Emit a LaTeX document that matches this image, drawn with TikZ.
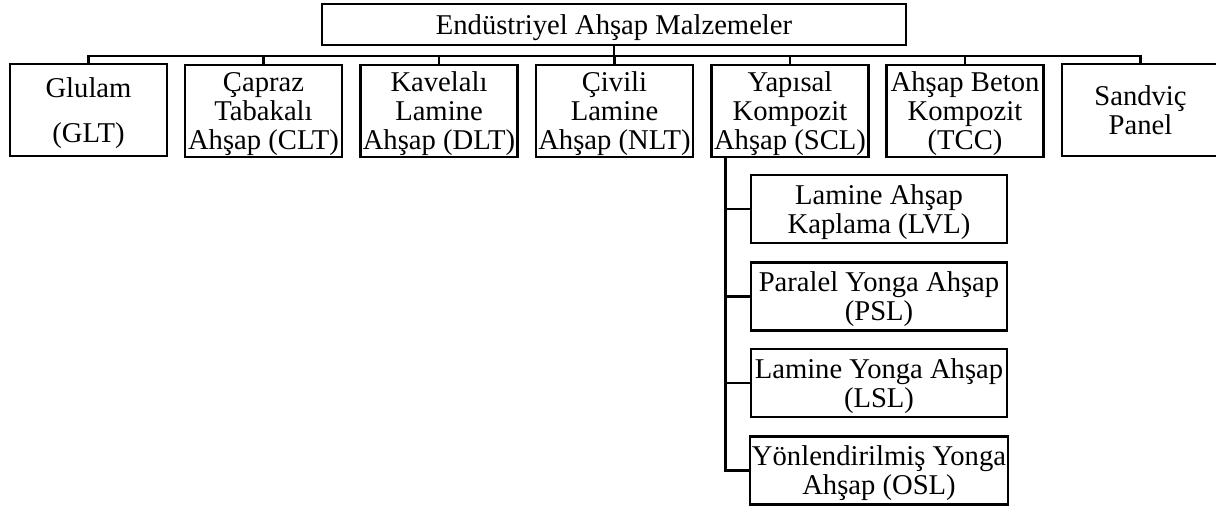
\documentclass[tikz,border=0pt]{standalone}
\usepackage{fontspec}
\setmainfont{Liberation Serif}
\usepackage{tikz}

\tikzset{
  kutu/.style={draw, rectangle, line width=1.3pt, align=center, inner sep=1pt,
    font=\fontsize{16.3}{16.5}\selectfont, text depth=-2.2pt},
  anakutu/.style={kutu, minimum width=3.14cm, minimum height=1.84cm},
  altkutu/.style={kutu, minimum width=5.12cm, minimum height=1.36cm},
  bag/.style={line width=1.3pt}
}

\begin{document}
\begin{tikzpicture}[x=0.02cm, y=-0.02cm]%
\useasboundingbox (0,0) rectangle (1216,506);%
\node[kutu, minimum width=11.68cm, minimum height=0.82cm] (kok) at (614,24.5) {Endüstriyel Ahşap Malzemeler};%
% ikinci sira
\node[anakutu] (glt) at (88.5,110) {Glulam\\[9pt](GLT)};%
\node[anakutu] (clt) at (263.5,111) {Çapraz\\Tabakalı\\Ahşap (CLT)};%
\node[anakutu] (dlt) at (439,111) {Kavelalı\\Lamine\\Ahşap (DLT)};%
\node[anakutu] (nlt) at (614.5,111) {Çivili\\Lamine\\Ahşap (NLT)};%
\node[anakutu] (scl) at (790,111) {Yapısal\\Kompozit\\Ahşap (SCL)};%
\node[anakutu] (tcc) at (965,111) {Ahşap Beton\\Kompozit\\(TCC)};%
\node[anakutu, text depth=-6pt] (snd) at (1140.5,110) {Sandviç\\Panel};%
\foreach \n in {glt,clt,dlt,nlt,scl,tcc,snd}
  \draw[bag] (kok.south) -- ++(0,10) -| (\n.north);%
% SCL alt kirilimi
\node[altkutu] (lvl) at (879,209) {Lamine Ahşap\\Kaplama (LVL)};%
\node[altkutu] (psl) at (879,296.5) {Paralel Yonga Ahşap\\(PSL)};%
\node[altkutu] (lsl) at (879,383) {Lamine Yonga Ahşap\\(LSL)};%
\node[altkutu] (osl) at (879,470.5) {Yönlendirilmiş Yonga\\Ahşap (OSL)};%
\coordinate (govde) at ([xshift=0.3cm]scl.south west);%
\foreach \n in {lvl,psl,lsl,osl}
  \draw[bag] (govde) |- (\n.west);%
\end{tikzpicture}
\end{document}
